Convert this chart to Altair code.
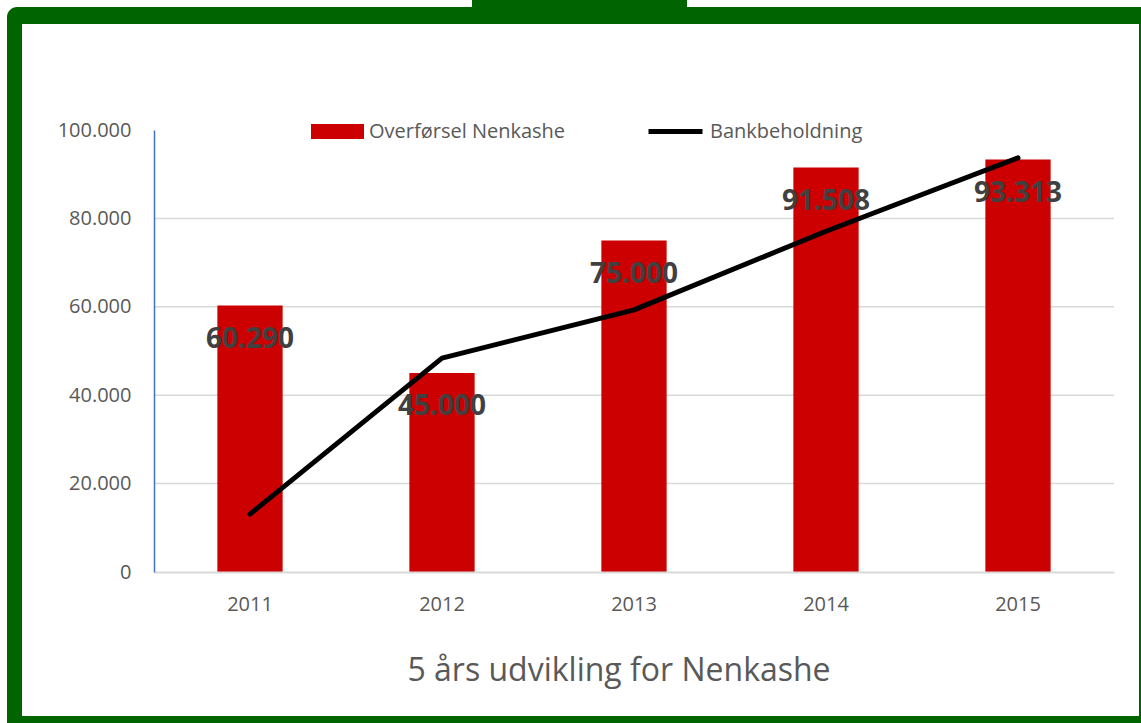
import altair as alt
import pandas as pd

years = ["2011", "2012", "2013", "2014", "2015"]
transfer = [60290, 45000, 75000, 91508, 93313]
bank = [13100, 48400, 59300, 77100, 93700]
y_ticks = [0, 20000, 40000, 60000, 80000, 100000]
grid_values = [20000, 40000, 60000, 80000]
bar_name = "Overførsel Nenkashe"
line_name = "Bankbeholdning"
title_text = "5 års udvikling for Nenkashe"

FONT = "Open Sans"
GREEN = "#006400"

df = pd.DataFrame({
    "year": years,
    "transfer": transfer,
    "bank": bank,
    "label": [f"{v:,}".replace(",", ".") for v in transfer],
    "bar_series": [bar_name] * len(years),
    "line_series": [line_name] * len(years),
})
grid_df = pd.DataFrame({"v": grid_values})

W, H = 960, 442
PL, PT, PR, PB = 154, 130, 27, 151

frame_df = pd.DataFrame({"k": [0]})
frame = alt.Chart(frame_df)
outer = frame.mark_rect(color=GREEN, cornerRadiusTopLeft=10).encode(
    x=alt.value(7 - PL), x2=alt.value(1141 - PL),
    y=alt.value(7 - PT), y2=alt.value(723 - PT))
inner = frame.mark_rect(color="white").encode(
    x=alt.value(22 - PL), x2=alt.value(1139 - PL),
    y=alt.value(24 - PT), y2=alt.value(716 - PT))
tab = frame.mark_rect(color=GREEN).encode(
    x=alt.value(472 - PL), x2=alt.value(687 - PL),
    y=alt.value(-PT), y2=alt.value(8 - PT))

y_scale = alt.Scale(domain=[0, 100000], nice=False)
y_axis = alt.Axis(title=None, values=y_ticks, ticks=False, domainColor="#4472c4",
                  domainWidth=1.5, grid=False,
                  labelPadding=23, labelFontSize=20, labelColor="#595959",
                  labelFont=FONT, zindex=1,
                  labelExpr="replace(format(datum.value, ','), ',', '.')")

grid = alt.Chart(grid_df).mark_rule(color="#d9d9d9", strokeWidth=1.5).encode(
    y=alt.Y("v:Q", scale=y_scale, axis=y_axis)
)

x_enc = alt.X("year:N", sort=years,
              scale=alt.Scale(paddingInner=0.66, paddingOuter=0.33),
              axis=alt.Axis(title=None, labelAngle=0, ticks=False, domainColor="#d9d9d9",
                            domainWidth=2, labelPadding=22, labelFontSize=20,
                            labelColor="#595959", labelFont=FONT, grid=False, zindex=1))

base = alt.Chart(df)
bars = base.mark_bar(color="#cc0000").encode(
    x=x_enc,
    y=alt.Y("transfer:Q", scale=y_scale, axis=y_axis),
    fill=alt.Fill("bar_series:N", scale=alt.Scale(domain=[bar_name], range=["#cc0000"]),
                  legend=alt.Legend(title=None, orient="none", legendX=157, legendY=-25,
                                    symbolType="M-1,-0.283H1V0.283H-1Z", symbolSize=2809,
                                    symbolStrokeWidth=0, labelOffset=5, padding=0,
                                    labelLimit=400,
                                    labelFontSize=20, labelColor="#595959", labelFont=FONT)),
)
labels = base.mark_text(font=FONT, fontSize=28, fontWeight="bold", color="#404040",
                        baseline="middle", dy=34).encode(
    x=alt.X("year:N", sort=years), y=alt.Y("transfer:Q", scale=y_scale), text="label:N")
line = base.mark_line(strokeWidth=5, strokeCap="round", strokeJoin="round").encode(
    x=alt.X("year:N", sort=years),
    y=alt.Y("bank:Q", scale=y_scale),
    stroke=alt.Stroke("line_series:N", scale=alt.Scale(domain=[line_name], range=["black"]),
                      legend=alt.Legend(title=None, orient="none", legendX=492, legendY=-28,
                                        symbolType="stroke", symbolSize=2916,
                                        symbolStrokeWidth=5, labelOffset=5, padding=0,
                                        labelLimit=400,
                                        labelFontSize=20, labelColor="#595959",
                                        labelFont=FONT)),
)

chart = alt.layer(outer, inner, tab, grid, bars, line, labels).resolve_scale(
    fill="independent", stroke="independent"
).properties(
    width=W, height=H,
    padding={"left": PL, "top": PT, "right": PR, "bottom": PB},
    autosize=alt.AutoSizeParams(type="none"),
    background="white",
    title=alt.TitleParams(title_text, orient="bottom", anchor="middle", dx=-15, offset=-67,
                          fontSize=32, font=FONT, fontWeight="normal", color="#595959"),
).configure_view(stroke=None)

chart.save("out.html", embed_options={"renderer": "svg", "actions": False})
